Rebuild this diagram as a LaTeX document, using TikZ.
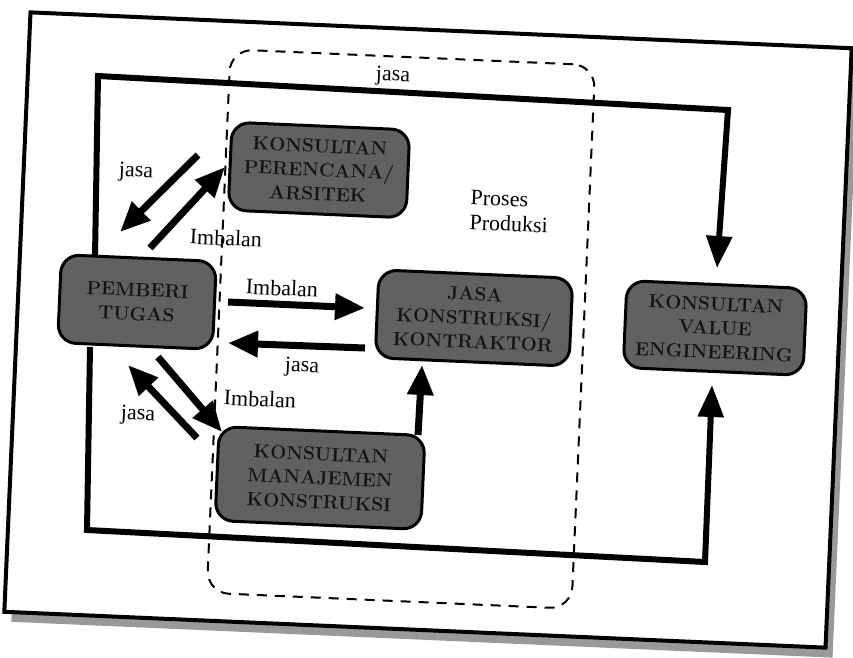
\documentclass[tikz,border=0pt]{standalone}
\usepackage{fontspec}
\newfontfamily\lblfont{Liberation Serif}
\usetikzlibrary{arrows.meta,calc}
\begin{document}
\begin{tikzpicture}[x=1pt,y=-1pt,
  box/.style={draw=black,line width=3pt,fill=black!62,rounded corners=18pt,rotate=-2.5,align=center,text=black!92,font=\fontsize{19}{24}\selectfont\bfseries,inner sep=0pt},
  lbl/.style={font=\lblfont\fontsize{22}{25}\selectfont,rotate=-2.5,inner sep=0pt},
  arr/.style={line width=7pt,-{Triangle[length=30pt,width=25pt]}},
  framearr/.style={line width=6pt,line join=miter,-{Triangle[length=32pt,width=25pt]}}]
\useasboundingbox (0,0) rectangle (853,657);
% page frame with scan shadow
\node[rotate=-2.5,fill=black!40,minimum width=822pt,minimum height=600pt,inner sep=0pt] (shadow) at (435,340) {};
\node[rotate=-2.5,draw=black,fill=white,line width=4pt,minimum width=822pt,minimum height=600pt,inner sep=0pt] (page) at (428,330) {};
% dashed production process area
\node[rotate=-2.5,draw=black,line width=2pt,dash pattern=on 10pt off 8pt,rounded corners=22pt,minimum width=365pt,minimum height=544pt,inner sep=0pt] (proc) at (401,329) {};
% boxes
\node[box,minimum width=178pt,minimum height=88pt] (per) at (319,170) {KONSULTAN\\PERENCANA/\\ARSITEK};
\node[box,minimum width=155pt,minimum height=88pt] (pt) at (137,302) {PEMBERI\\TUGAS};
\node[box,minimum width=194pt,minimum height=88pt] (jk) at (474,318) {JASA\\KONSTRUKSI/\\KONTRAKTOR};
\node[box,minimum width=206pt,minimum height=94pt] (kmk) at (320,478) {KONSULTAN\\MANAJEMEN\\KONSTRUKSI};
\node[box,minimum width=180pt,minimum height=87pt] (ve) at (715,328) {KONSULTAN\\VALUE\\ENGINEERING};
% connector end points
\coordinate (a1s) at (198,155); \coordinate (a1e) at (120,232);
\coordinate (a2s) at (150,248); \coordinate (a2e) at (225,167);
\coordinate (a3s) at (228,302); \coordinate (a3e) at (365,308);
\coordinate (a4s) at (365,348); \coordinate (a4e) at (228,343);
\coordinate (a5s) at (197,438); \coordinate (a5e) at (128,365);
\coordinate (a6s) at (158,357); \coordinate (a6e) at (222,432);
\coordinate (a7s) at (418,435); \coordinate (a7e) at (422,365);
\coordinate (t0) at (95,257); \coordinate (t1) at (98,76); \coordinate (t2) at (728,110); \coordinate (t3) at (717,268);
\coordinate (b0) at (90,347); \coordinate (b1) at (87,530); \coordinate (b2) at (705,562); \coordinate (b3) at (712,385);
% connectors
\draw[arr] (a1s) -- (a1e);
\draw[arr] (a2s) -- (a2e);
\draw[arr] (a3s) -- (a3e);
\draw[arr] (a4s) -- (a4e);
\draw[arr] (a5s) -- (a5e);
\draw[arr] (a6s) -- (a6e);
\draw[arr] (a7s) -- (a7e);
\draw[framearr] (t0) -- (t1) -- (t2) -- (t3);
\draw[framearr] (b0) -- (b1) -- (b2) -- (b3);
% labels
\node[lbl] (ljtop) at (393,76) {jasa};
\node[lbl] (lj1) at (136,172) {jasa};
\node[lbl] (li1) at (226,238) {Imbalan};
\node[lbl] (li2) at (282,288) {Imbalan};
\node[lbl] (lj2) at (302,367) {jasa};
\node[lbl] (li3) at (260,399) {Imbalan};
\node[lbl] (lj3) at (138,415) {jasa};
\node[lbl,align=left,anchor=west] (lpp) at (470,210) {Proses\\Produksi};
\end{tikzpicture}
\end{document}
